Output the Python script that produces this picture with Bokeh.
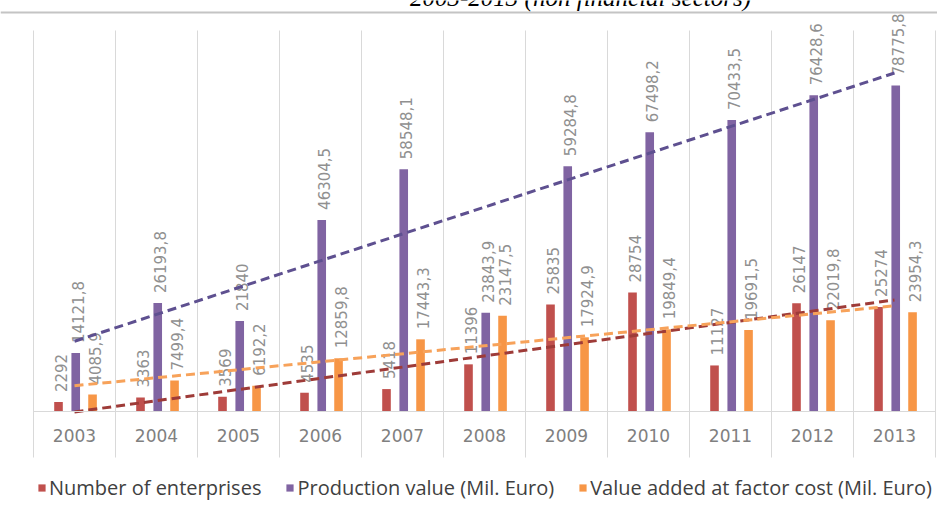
import numpy as np
from bokeh.plotting import figure
from bokeh.models import Range1d, FixedTicker, Span, Label, Legend, LegendItem
from bokeh.embed import file_html
from bokeh.resources import INLINE
from bokeh.core.properties import value

# ---------------- data ----------------
years = ["2003", "2004", "2005", "2006", "2007", "2008", "2009", "2010", "2011", "2012", "2013"]
enterprises = [2292, 3363, 3569, 4535, 5418, 11396, 25835, 28754, 11127, 26147, 25274]
production = [14121.8, 26193.8, 21840, 46304.5, 58548.1, 23843.9, 59284.8, 67498.2, 70433.5, 76428.6, 78775.8]
value_added = [4085.9, 7499.4, 6192.2, 12859.8, 17443.3, 23147.5, 17924.9, 19849.4, 19691.5, 22019.8, 23954.3]
series_names = ["Number of enterprises", "Production value (Mil. Euro)", "Value added at factor cost (Mil. Euro)"]
title_text = "2003-2013 (non financial sectors)"

# ---------------- layout / style ----------------
W, H = 937, 503
LEFT_PX = 33.0          # left edge of first category (canvas px)
CAT_W = 82.0            # category width (px)
BASE_PX = 411.0         # baseline (canvas px from top)
UPP = 78775.8 / 326.0   # value units per pixel

def px_x(px):
    return (px - LEFT_PX) / CAT_W - 0.5

def px_y(py):
    return (BASE_PX - py) * UPP

n = len(years)
idx = np.arange(n)

bar_colors = ["#C0504D", "#8064A2", "#F79646"]
trend_colors = ["#9E3B38", "#5E5090", "#F7A25A"]
offsets = [-0.195, 0.015, 0.22]
bar_w = 0.105

def fmt(v):
    v = float(v)
    if v.is_integer():
        return str(int(v))
    return f"{v:.1f}".replace(".", ",")

p = figure(width=W, height=H, x_range=Range1d(px_x(0), px_x(W)), y_range=Range1d(px_y(H), px_y(0)),
           output_backend="svg", toolbar_location=None, min_border=0,
           background_fill_color="white", border_fill_color="white")
p.outline_line_color = None
p.xgrid.visible = False
p.ygrid.visible = False
p.yaxis.visible = False

# x axis drawn at value 0
ax = p.xaxis[0]
ax.fixed_location = 0
ax.ticker = FixedTicker(ticks=list(idx))
ax.major_label_overrides = {int(i): y for i, y in zip(idx, years)}
ax.bounds = (-0.5, n - 0.5)
ax.axis_line_color = "#D9D9D9"
ax.axis_line_width = 1
ax.major_tick_line_color = None
ax.minor_tick_line_color = None
ax.major_tick_out = 0
ax.major_tick_in = 0
ax.major_label_standoff = 17
ax.major_label_text_font = "DejaVu Sans"
ax.major_label_text_font_size = "17px"
ax.major_label_text_color = "#808080"

# category separators
bounds = idx.tolist() + [n]
bounds = [b - 0.5 for b in bounds]
p.segment(x0=bounds, y0=[px_y(457)] * len(bounds), x1=bounds, y1=[px_y(30)] * len(bounds),
          line_color="#D9D9D9", line_width=1)

# top rule
p.add_layout(Span(location=px_y(12), dimension="width", line_color="#C4C4C4", line_width=2))

# title (clipped at top like the source)
p.add_layout(Label(x=px_x(580), y=px_y(-3), text=title_text, text_font="Liberation Serif",
                   text_font_style="italic", text_font_size="25px", text_align="center",
                   text_baseline="alphabetic", text_color="black"))

series = [enterprises, production, value_added]
renderers = []
for vals, col, off in zip(series, bar_colors, offsets):
    r = p.vbar(x=idx + off, top=vals, width=bar_w, bottom=0, fill_color=col, line_color=None)
    renderers.append(r)

for vals, off in zip(series, offsets):
    p.text(x=idx + off, y=vals, text=[fmt(v) for v in vals], angle=np.pi / 2,
           text_align="left", text_baseline="middle", x_offset=2, y_offset=-10,
           text_font=value("DejaVu Sans"), text_font_size="15px", text_color="#909090")

for vals, col in zip(series, trend_colors):
    k, b = np.polyfit(idx, np.array(vals, dtype=float), 1)
    xs = [0, n - 1]
    ys = [b + k * x for x in xs]
    p.line(xs, ys, line_color=col, line_width=3, line_dash="9 5")

legend = Legend(items=[LegendItem(label=nm, renderers=[r]) for nm, r in zip(series_names, renderers)],
                orientation="horizontal", location=(37, 2),
                glyph_width=9, glyph_height=9, label_standoff=3, spacing=24,
                padding=0, margin=0, border_line_color=None, background_fill_alpha=0,
                label_text_font="Open Sans", label_text_font_size="20px", label_text_color="#404040")
p.add_layout(legend)

open("out.html", "w").write(file_html(p, INLINE))
